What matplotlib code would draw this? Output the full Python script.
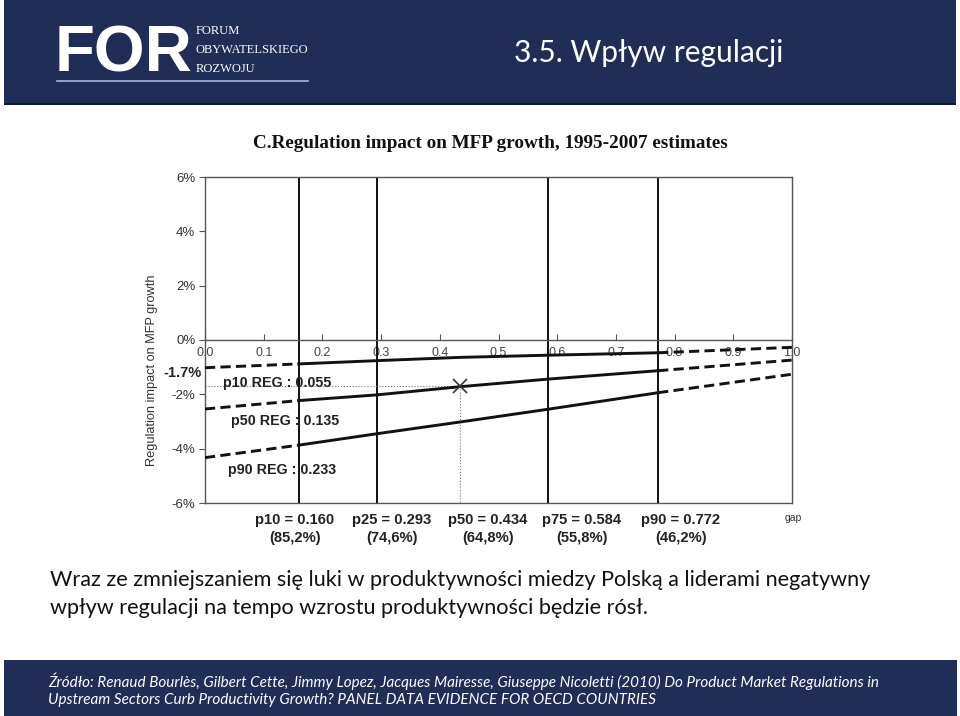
import matplotlib
matplotlib.use("Agg")
import matplotlib.pyplot as plt
from matplotlib.patches import Rectangle

# chart data
gap_pts = [0.0, 0.160, 0.293, 0.434, 0.584, 0.772, 1.0]
p10_impact = [-1.02, -0.88, -0.76, -0.64, -0.56, -0.47, -0.27]
p50_impact = [-2.54, -2.23, -2.02, -1.72, -1.44, -1.13, -0.74]
p90_impact = [-4.33, -3.87, -3.45, -3.02, -2.55, -1.94, -1.26]
reg_names = ["p10 REG : 0.055", "p50 REG : 0.135", "p90 REG : 0.233"]
reg_label_pos = [(0.03, -1.58), (0.045, -2.99), (0.039, -4.77)]

pct_names = ["p10", "p25", "p50", "p75", "p90"]
pct_gap = [0.160, 0.293, 0.434, 0.584, 0.772]
pct_share = ["85,2%", "74,6%", "64,8%", "55,8%", "46,2%"]
marker_gap = 0.434
marker_val = -1.7

y_ticks = [6, 4, 2, 0, -2, -4, -6]
x_ticks = [0.0, 0.1, 0.2, 0.3, 0.4, 0.5, 0.6, 0.7, 0.8, 0.9, 1.0]

NAVY = "#1f2d57"
W, H = 960, 716


def fx(px):
    return px / W


def fy(py):
    return 1 - py / H


def main():
    fig = plt.figure(figsize=(9.6, 7.16), dpi=100)

    # header band
    fig.patches.append(Rectangle((fx(4), fy(103)), fx(952), 103 / H, transform=fig.transFigure,
                                 facecolor=NAVY, edgecolor="none", zorder=0))
    fig.patches.append(Rectangle((fx(4), fy(105)), fx(952), 2 / H, transform=fig.transFigure,
                                 facecolor="#0d1838", edgecolor="none", zorder=0))
    fig.text(fx(55), fy(54), "FOR", color="white", fontsize=47, fontweight="heavy",
             family="Liberation Sans", va="center", ha="left")
    for i, word in enumerate(["FORUM", "OBYWATELSKIEGO", "ROZWOJU"]):
        fig.text(fx(196), fy(31 + 19 * i), word, color="white", fontsize=9,
                 family="Liberation Serif", va="center", ha="left")
    fig.lines.append(plt.Line2D([fx(57), fx(308)], [fy(81), fy(81)], transform=fig.transFigure,
                                color="#a9b8d8", lw=1.2))
    fig.text(fx(514), fy(53), "3.5. Wpływ regulacji", color="white", fontsize=21.5,
             family="Lato", va="center", ha="left")

    # footer band
    fig.patches.append(Rectangle((fx(4), 0), fx(953), 56 / H, transform=fig.transFigure,
                                 facecolor=NAVY, edgecolor="none", zorder=0))
    fig.text(fx(48), fy(681), "Źródło: Renaud Bourlès, Gilbert Cette, Jimmy Lopez, Jacques Mairesse, "
             "Giuseppe Nicoletti (2010) Do Product Market Regulations in",
             color="white", fontsize=11, style="italic", family="Lato", va="center")
    fig.text(fx(48), fy(700), "Upstream Sectors Curb Productivity Growth? PANEL DATA EVIDENCE FOR OECD COUNTRIES",
             color="white", fontsize=11, style="italic", family="Lato", va="center")

    # body text
    fig.text(fx(50), fy(580), "Wraz ze zmniejszaniem się luki w produktywności miedzy Polską a liderami negatywny",
             color="#111111", fontsize=15.6, family="Lato", va="center")
    fig.text(fx(50), fy(608), "wpływ regulacji na tempo wzrostu produktywności będzie rósł.",
             color="#111111", fontsize=15.6, family="Lato", va="center")

    # chart
    fig.text(fx(490), fy(143), "C.Regulation impact on MFP growth, 1995-2007 estimates",
             fontsize=13.8, fontweight="bold", family="Liberation Serif", ha="center", va="center",
             color="#111111")

    ax = fig.add_axes([fx(205), fy(503), (792 - 205) / W, (503 - 177) / H])
    ax.set_xlim(0, 1)
    ax.set_ylim(min(y_ticks), max(y_ticks))
    for s in ["left", "top", "right", "bottom"]:
        ax.spines[s].set_color("#555555")
        ax.spines[s].set_linewidth(1.0)
    ax.spines["bottom"].set_position(("data", 0))
    ax.axhline(min(y_ticks), color="#555555", lw=1.0, clip_on=False)

    ax.set_yticks(y_ticks)
    ax.set_yticklabels(["%d%%" % v for v in y_ticks], fontsize=9.5, color="#333333",
                       family="Liberation Sans")
    ax.tick_params(axis="y", direction="out", length=4, color="#555555", pad=3)
    ax.set_xticks(x_ticks)
    ax.set_xticklabels(["%.1f" % v for v in x_ticks], fontsize=9, color="#444444",
                       family="Liberation Sans")
    ax.tick_params(axis="x", direction="in", length=4, color="#555555", pad=5)

    fig.text(fx(152), fy(370), "Regulation impact on MFP growth", rotation=90, fontsize=9.2,
             color="#333333", family="Liberation Sans", ha="center", va="center")

    # percentile vertical lines
    for name, g in zip(pct_names, pct_gap):
        if g == marker_gap:
            continue
        ax.axvline(g, color="#111111", lw=1.4, zorder=2)

    # dotted guide to the marker
    ax.plot([0, marker_gap], [marker_val, marker_val], color="#777777", lw=0.8, ls=":", zorder=2)
    ax.plot([marker_gap, marker_gap], [marker_val, min(y_ticks)], color="#777777", lw=0.8,
            ls=":", zorder=2)
    ax.plot([marker_gap], [marker_val], marker="x", ms=10, mew=1.2, color="#333333", zorder=4)

    # regulation lines: dashed outside p10-p90, solid inside
    for series in [p10_impact, p50_impact, p90_impact]:
        ax.plot(gap_pts[:2], series[:2], color="#111111", lw=2.1, ls=(0, (3.5, 1.8)), zorder=3)
        ax.plot(gap_pts[1:6], series[1:6], color="#111111", lw=2.1, zorder=3)
        ax.plot(gap_pts[5:], series[5:], color="#111111", lw=2.1, ls=(0, (3.5, 1.8)), zorder=3)

    for name, (x, y) in zip(reg_names, reg_label_pos):
        ax.text(x, y, name, fontsize=10.3, fontweight="bold", family="Liberation Sans",
                color="#222222", va="center", ha="left", zorder=5)

    ax.text(-0.005, marker_val + 0.5, "-1.7%", fontsize=10.5, fontweight="bold",
            family="Liberation Sans", color="#222222", ha="right", va="center", clip_on=False)

    # percentile labels under the chart
    label_px = [295, 392, 488, 582, 681]
    for px, name, g, share in zip(label_px, pct_names, pct_gap, pct_share):
        fig.text(fx(px), fy(520), "%s = %.3f" % (name, g), fontsize=10.6, fontweight="bold",
                 family="Liberation Sans", color="#222222", ha="center", va="center")
        fig.text(fx(px), fy(538), "(%s)" % share, fontsize=10.6, fontweight="bold",
                 family="Liberation Sans", color="#222222", ha="center", va="center")
    fig.text(fx(793), fy(518), "gap", fontsize=7.5, family="Liberation Sans", color="#333333",
             ha="center", va="center")

    fig.savefig("out.png", dpi=100)


if __name__ == "__main__":
    main()
